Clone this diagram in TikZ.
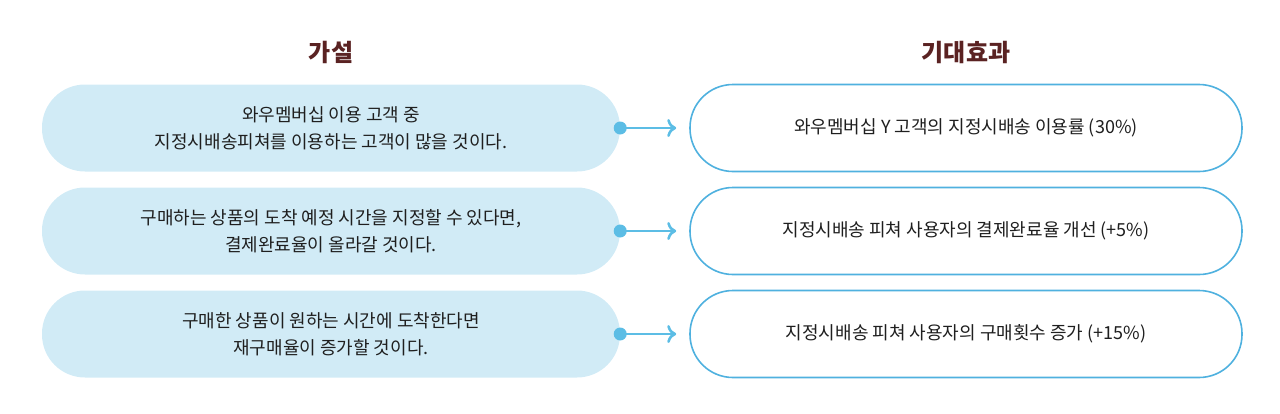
\documentclass[tikz,border=0pt]{standalone}
\usepackage{fontspec}
\setmainfont{Noto Sans CJK KR}
\usetikzlibrary{arrows.meta}
\definecolor{hypfill}{HTML}{D1EBF6}
\definecolor{effline}{HTML}{4FB1DF}
\definecolor{dotblue}{HTML}{5CBDE5}
\definecolor{titlebrown}{HTML}{5A2222}
\def\BoxHeight{87}
\def\HypWidth{578}
\def\EffWidth{552}
\def\HypX{331}
\def\EffX{966}
\tikzset{
  hyp/.style={rectangle, fill=hypfill, minimum width=\HypWidth, minimum height=\BoxHeight,
    rounded corners=43pt, align=center, font=\fontsize{18}{27}\selectfont, text=black!88},
  eff/.style={rectangle, draw=effline, line width=1.6pt, fill=white, minimum width=\EffWidth,
    minimum height=\BoxHeight, rounded corners=43pt, align=center,
    font=\fontsize{18}{27}\selectfont, text=black!88},
  headline/.style={font=\bfseries\fontsize{24}{28}\selectfont, text=titlebrown}
}
\begin{document}
\begin{tikzpicture}[x=1pt,y=-1pt]
  \useasboundingbox (0,0) rectangle (1280,413);
  % titles
  \node[headline] (hyptitle) at (\HypX,52) {가설};
  \node[headline] (efftitle) at (\EffX,52) {기대효과};
  % hypotheses
  \node[hyp] (hyp1) at (\HypX,128) {와우멤버십 이용 고객 중\\지정시배송피쳐를 이용하는 고객이 많을 것이다.};
  \node[hyp] (hyp2) at (\HypX,231) {구매하는 상품의 도착 예정 시간을 지정할 수 있다면,\\결제완료율이 올라갈 것이다.};
  \node[hyp] (hyp3) at (\HypX,334) {구매한 상품이 원하는 시간에 도착한다면\\재구매율이 증가할 것이다.};
  % expected effects
  \node[eff] (eff1) at (\EffX,128) {와우멤버십 Y 고객의 지정시배송 이용률 (30\%)};
  \node[eff] (eff2) at (\EffX,231) {지정시배송 피쳐 사용자의 결제완료율 개선 (+5\%)};
  \node[eff] (eff3) at (\EffX,334) {지정시배송 피쳐 사용자의 구매횟수 증가 (+15\%)};
  % arrows
  \foreach \i in {1,2,3}
    {
      \draw[dotblue, line width=2.6pt, -{To[length=9pt,width=18pt]}, shorten >=13pt]
        (hyp\i.east) -- (eff\i.west);
      \fill[dotblue] (hyp\i.east) circle (6.5);
    }
\end{tikzpicture}
\end{document}
